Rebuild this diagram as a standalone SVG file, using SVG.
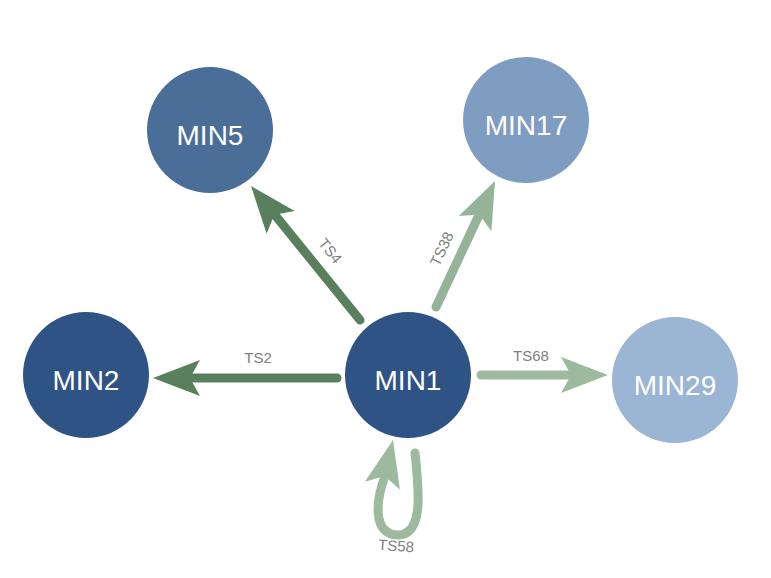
<svg xmlns="http://www.w3.org/2000/svg" xmlns:xlink="http://www.w3.org/1999/xlink" width="771" height="578" viewBox="0 0 771 578">
<style>
.node text{font-family:"Liberation Sans",Arial,sans-serif;font-size:28px;fill:#ffffff;text-anchor:middle}
.lbl{font-family:"Liberation Sans",Arial,sans-serif;font-size:15px;fill:#808080;text-anchor:middle}
.e{fill:none;stroke-width:9;stroke-linecap:round}
.dk{stroke:#5a7f5c;fill:#5a7f5c}
.lt{stroke:#9dba9e;fill:#9dba9e}
.md{stroke:#95b398;fill:#95b398}
</style>
<defs>
<path id="ah" d="M0,0 L-47,-18 L-37,0 L-47,18 Z" stroke="none"/>
</defs>
<rect width="771" height="578" fill="#ffffff"/>
<g id="connectors">
<g class="dk">
<line class="e dk" x1="360" y1="320" x2="275" y2="215"/>
<use href="#ah" transform="translate(251,186) rotate(-129.1)"/>
</g>
<g class="md">
<line class="e md" x1="436" y1="307" x2="479" y2="215"/>
<use href="#ah" transform="translate(495,181) rotate(-64.9)"/>
</g>
<g class="dk">
<line class="e dk" x1="337" y1="378" x2="188" y2="378"/>
<use href="#ah" transform="translate(153,378) rotate(180)"/>
</g>
<g class="lt">
<line class="e lt" x1="481" y1="375" x2="572" y2="375"/>
<use href="#ah" transform="translate(608,375)"/>
</g>
<g class="lt">
<path class="e lt" style="fill:none" d="M415,453 C419,490 424,535 398,535 C372,535 376,500 385,476"/>
<use href="#ah" transform="translate(393,440) rotate(-77)"/>
</g>
<text class="lbl" transform="translate(330,251) rotate(51)" y="5">TS4</text>
<text class="lbl" transform="translate(442,249) rotate(-65)" y="5">TS38</text>
<text class="lbl" x="258" y="363">TS2</text>
<text class="lbl" x="531" y="361">TS68</text>
<text class="lbl" transform="translate(396,546) rotate(4)" y="5">TS58</text>
</g>
<g id="MIN5" class="node"><circle cx="210" cy="130" r="63" fill="#4a6e98"/><text x="210" y="145">MIN5</text></g>
<g id="MIN17" class="node"><circle cx="526" cy="120" r="63" fill="#7f9dc1"/><text x="526" y="135">MIN17</text></g>
<g id="MIN2" class="node"><circle cx="86" cy="375" r="63" fill="#2e5384"/><text x="86" y="390">MIN2</text></g>
<g id="MIN1" class="node"><circle cx="408" cy="375" r="63" fill="#2e5384"/><text x="408" y="390">MIN1</text></g>
<g id="MIN29" class="node"><circle cx="675" cy="380" r="63" fill="#9bb5d4"/><text x="675" y="395">MIN29</text></g>
</svg>
